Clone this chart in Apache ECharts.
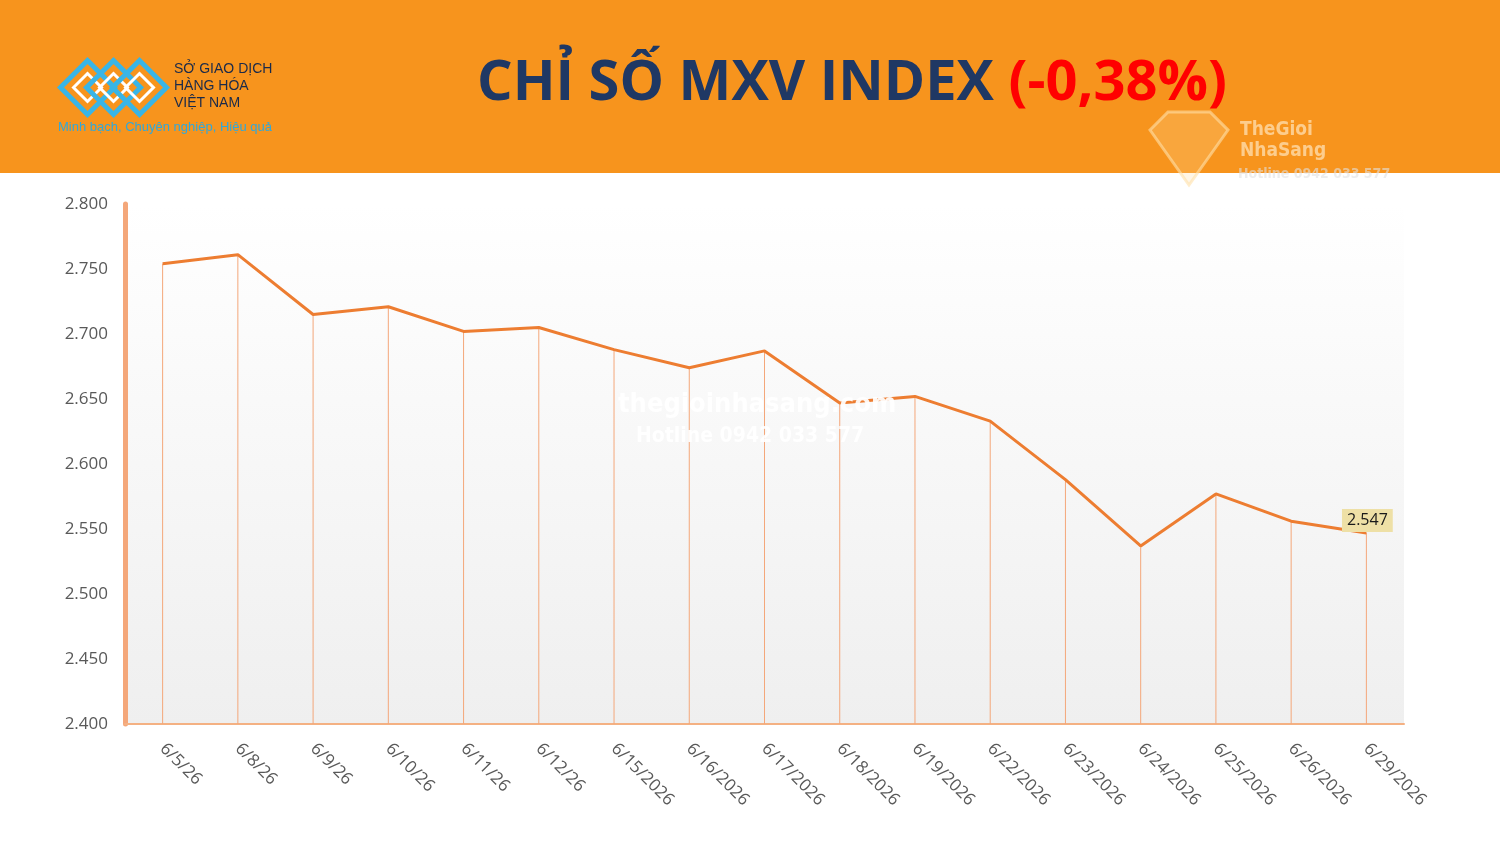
<!DOCTYPE html>
<html>
<head>
<meta charset="utf-8">
<script src="https://cdn.jsdelivr.net/npm/echarts@6/dist/echarts.min.js"></script>
<style>
  html, body { margin: 0; padding: 0; background: #fff; }
  #chart { width: 1500px; height: 844px; }
</style>
</head>
<body>
<div id="chart"></div>
<script>
// dates on the x axis
const dates = ['6/5/26', '6/8/26', '6/9/26', '6/10/26', '6/11/26', '6/12/26', '6/15/2026', '6/16/2026',
  '6/17/2026', '6/18/2026', '6/19/2026', '6/22/2026', '6/23/2026', '6/24/2026', '6/25/2026', '6/26/2026', '6/29/2026']
// MXV index closing values
const mxvIndex = [2754, 2761, 2715, 2721, 2702, 2705, 2688, 2674, 2687, 2647, 2652, 2633, 2588, 2537, 2577, 2556, 2547]
const yTicks = [2400, 2450, 2500, 2550, 2600, 2650, 2700, 2750, 2800]

const orange = '#ED7D31'
const chart = echarts.init(document.getElementById('chart'))

const fmt = v => {
  const s = String(Math.round(v))
  return s.length > 3 ? s.slice(0, s.length - 3) + '.' + s.slice(-3) : s
}

const last = mxvIndex.length - 1

const option = {
  backgroundColor: '#fff',
  animation: false,
  grid: {
    left: 125, right: 96, top: 204, bottom: 120,
    show: true,
    borderWidth: 0,
    backgroundColor: new echarts.graphic.LinearGradient(0, 0, 0, 1, [
      { offset: 0, color: '#ffffff' },
      { offset: 1, color: '#efefef' }
    ])
  },
  xAxis: {
    type: 'category',
    data: dates,
    boundaryGap: true,
    axisLine: { lineStyle: { color: '#F4B183', width: 2 } },
    axisTick: { show: false },
    axisLabel: {
      rotate: -45, color: '#595959', fontSize: 17, margin: 22,
      fontFamily: 'Open Sans', interval: 0, align: 'left', verticalAlign: 'middle'
    },
    splitLine: { show: false }
  },
  yAxis: {
    type: 'value',
    min: yTicks[0], max: yTicks[yTicks.length - 1], interval: 50,
    axisLine: { show: true, lineStyle: { color: '#F4A77A', width: 5 } },
    axisTick: { show: false },
    splitLine: { show: false },
    axisLabel: { color: '#595959', fontSize: 17, margin: 17, fontFamily: 'Open Sans', formatter: fmt }
  },
  series: [
    {
      // thin drop lines from each point to the axis
      type: 'bar',
      data: mxvIndex,
      barWidth: 1,
      itemStyle: { color: '#F4A77A' },
      silent: true,
      z: 1
    },
    {
      type: 'line',
      data: mxvIndex.map((v, i) => i === last ? {
        value: v,
        label: {
          show: true, position: 'top', offset: [1, 4], formatter: p => fmt(p.value),
          color: '#1a1a1a', fontSize: 16, fontFamily: 'Open Sans',
          backgroundColor: '#EEE0A6', padding: [4, 5, 3, 5]
        }
      } : v),
      showSymbol: true,
      symbol: 'circle',
      symbolSize: 0,
      itemStyle: { color: orange },
      lineStyle: { color: orange, width: 3 },
      z: 3
    }
  ],
  graphic: [
    { type: 'rect', left: 0, top: 0, shape: { width: 1500, height: 173 }, style: { fill: '#F7941D' }, z: 0 },
    // logo mark
    {
      type: 'group', left: 58, top: 58, z: 10,
      children: [
        { type: 'polygon', shape: { points: [[0, 27], [27, 0], [54, 27], [27, 54]] }, style: { fill: 'none', stroke: '#39B5E6', lineWidth: 5 } },
        { type: 'polygon', shape: { points: [[13, 27], [27, 13], [41, 27], [27, 41]] }, style: { fill: 'none', stroke: '#ffffff', lineWidth: 3 } },
        { type: 'polygon', shape: { points: [[26, 27], [53, 0], [80, 27], [53, 54]] }, style: { fill: 'none', stroke: '#39B5E6', lineWidth: 5 } },
        { type: 'polygon', shape: { points: [[39, 27], [53, 13], [67, 27], [53, 41]] }, style: { fill: 'none', stroke: '#ffffff', lineWidth: 3 } },
        { type: 'polygon', shape: { points: [[52, 27], [79, 0], [106, 27], [79, 54]] }, style: { fill: 'none', stroke: '#39B5E6', lineWidth: 5 } },
        { type: 'polygon', shape: { points: [[65, 27], [79, 13], [93, 27], [79, 41]] }, style: { fill: 'none', stroke: '#ffffff', lineWidth: 3 } }
      ]
    },
    { type: 'text', left: 174, top: 61, z: 10, style: { text: 'SỞ GIAO DỊCH\nHÀNG HÓA\nVIỆT NAM', fill: '#1a2a4a', font: '14px "Liberation Sans Narrow", "Liberation Sans"', lineHeight: 17 } },
    { type: 'text', left: 58, top: 121, z: 10, style: { text: 'Minh bạch, Chuyên nghiệp, Hiệu quả', fill: '#2FA8DC', font: '13px "Liberation Sans Narrow", "Liberation Sans"' } },
    // title
    {
      type: 'text', left: 477, top: 56, z: 10,
      style: {
        text: '{a|CHỈ SỐ MXV INDEX }{b|(-0,38%)}',
        rich: {
          a: { fill: '#1F3864', font: 'bold 56px "Open Sans"' },
          b: { fill: '#FF0000', font: 'bold 56px "Open Sans"' }
        }
      }
    },
    // watermarks
    { type: 'text', left: 1240, top: 120, z: 10, style: { text: 'TheGioi\nNhaSang', fill: 'rgba(255,230,190,0.7)', font: 'bold 19px "DejaVu Sans Condensed"', lineHeight: 21 } },
    { type: 'text', left: 1238, top: 167, z: 10, style: { text: 'Hotline 0942 033 577', fill: 'rgba(225,225,225,0.6)', font: 'bold 14px "DejaVu Sans Condensed"' } },
    {
      type: 'polygon', z: 10,
      shape: { points: [[1150, 130], [1168, 112], [1210, 112], [1228, 130], [1189, 185]] },
      style: { fill: 'rgba(255,220,160,0.25)', stroke: 'rgba(255,225,170,0.6)', lineWidth: 3 }
    },
    { type: 'text', left: 618, top: 391, z: 10, style: { text: 'thegioinhasang.com', fill: 'rgba(255,255,255,0.92)', font: 'bold 27px "DejaVu Sans Condensed"', shadowColor: 'rgba(0,0,0,0.45)', shadowBlur: 5 } },
    { type: 'text', left: 636, top: 426, z: 10, style: { text: 'Hotline 0942 033 577', fill: 'rgba(255,255,255,0.92)', font: 'bold 21px "DejaVu Sans Condensed"', shadowColor: 'rgba(0,0,0,0.45)', shadowBlur: 5 } }
  ]
}

chart.setOption(option)
</script>
</body>
</html>
